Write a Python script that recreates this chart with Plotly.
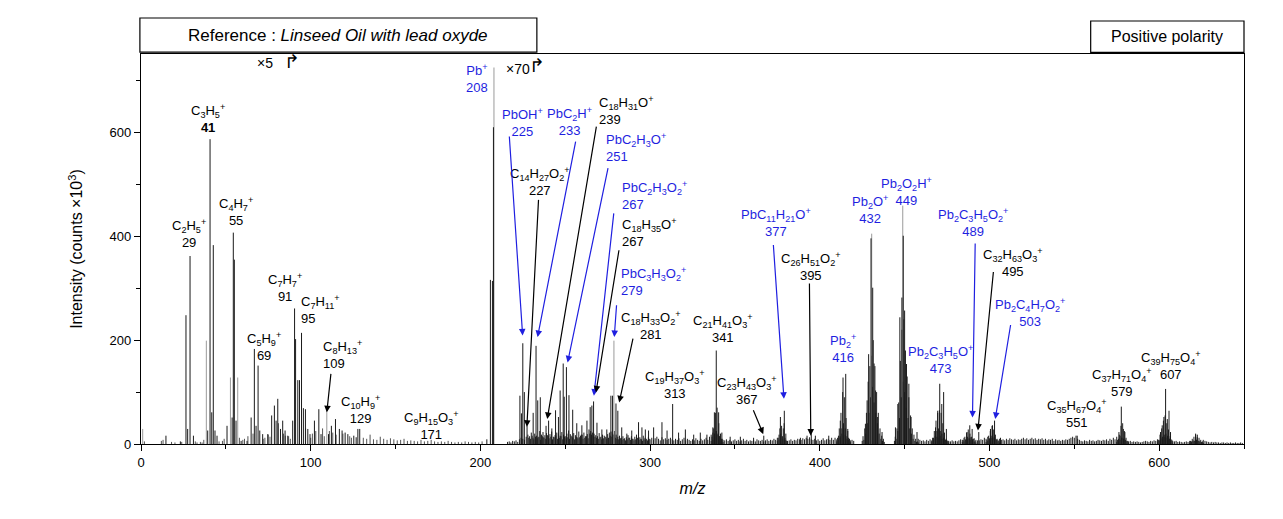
import plotly.graph_objects as go

# ---------------- data ----------------
# main peaks (dark)
peak_mz = [14.7, 23.2, 26.5, 27.5, 28.9, 30.9, 39.3, 40.7, 41.7, 42.6, 43.6, 44.8, 50.7, 53.7, 54.4, 55.0,
           56.0, 59, 62.5, 64.9, 66.8, 67.8, 69.0, 70, 71.7, 74.7, 77, 78.6, 79.6, 80.6, 82.2, 83.5, 84.9,
           86.5, 89.4, 90.5, 91.1, 92.4, 93.4, 94.6, 95.7, 96.9, 98.3, 99.6, 102.2, 104.8, 106.1, 110.5,
           112.2, 114.6, 116.9, 118.5, 120.3, 121.9, 125.4, 126.8, 127.8, 128.9,
           203.8, 205.9, 207.1, 207.7, 223.3, 224.2, 225.0, 225.9, 227.5, 231.1, 232.8, 233.8, 235.3,
           236.9, 238.7, 240.2, 242.1, 244.3, 246, 247, 248.8, 249.4, 250.7, 252.2, 254.4, 256.8, 259.8,
           262.8, 264.7, 265.7, 266.7, 268.7, 271.6, 274.5, 276.9, 277.9, 279.9, 281.0, 283.3, 286.3,
           289.2, 293.2, 295.2, 297.2, 299.1, 302.1, 307, 310, 313.3, 316.8, 320.8, 325.7, 329.6, 333.5,
           337.0, 337.9, 339.0, 340.4, 342.3, 347.2, 353.2, 361, 367, 376.8, 379.1, 388.6, 392.5, 395,
           397.4, 405.3, 412.1, 413.7, 415.3, 416.5, 426.9, 427.9, 428.8, 430.2, 431.2, 432.0, 432.9,
           434.1, 436.7, 444.6, 446.0, 447.2, 448.4, 449.2, 450.0, 451.1, 452.5, 453.8, 457.3, 468.2,
           469.5, 470.7, 471.9, 473.0, 474.6, 486.8, 488.4, 489.8, 493.7, 500.6, 501.8, 503.0, 506.5,
           551.7, 576.3, 577.7, 578.9, 579.8, 600.8, 601.8, 602.8, 603.8, 604.8, 605.8, 606.7, 621.5, 622.4]
peak_int = [16, 5, 248, 29, 362, 16, 26, 587, 61, 383, 26, 16, 35, 51, 407, 355,
            45, 6, 6, 51, 183, 35, 151, 26, 19, 19, 55, 74, 45, 87, 29, 45, 26,
            16, 45, 261, 202, 123, 123, 214, 69, 67, 29, 19, 45, 67, 19, 19,
            35, 48, 29, 26, 22, 19, 16, 13, 29, 29,
            9, 316, 314, 610, 93, 59, 194, 100, 36, 60, 189, 84, 90,
            23, 35, 45, 30, 65, 52, 103, 155, 91, 148, 94, 66, 40, 36,
            45, 71, 74, 82, 41, 28, 28, 93, 93, 78, 64, 32, 20,
            26, 42, 32, 28, 26, 32, 42, 26, 77, 22, 28, 18, 22, 18,
            32, 61, 180, 61, 22, 14, 14, 12, 16, 52, 64, 12, 16, 19,
            16, 16, 45, 128, 135, 29, 39, 84, 173, 396, 301, 155, 103,
            52, 23, 32, 77, 244, 282, 401, 257, 154, 116, 52, 23, 32,
            64, 116, 77, 100, 29, 23, 36, 29, 23, 29, 36, 45, 12,
            16, 23, 72, 29, 23, 23, 36, 52, 106, 48, 64, 23, 20, 13]

# light grey peaks
light_mz = [1.0, 38.5, 52.7, 57.0, 109.5, 208.0, 278.7, 430.6, 448.9]
light_int = [29, 199, 128, 128, 64, 725, 199, 405, 459]

# low-mass background peaks
low_mz = [2, 12, 13, 18, 20, 24, 32, 33, 35, 36, 37, 46, 48, 49, 58, 60, 61, 63, 66, 72, 73, 75, 76,
          81, 84, 85, 87, 88, 97, 100, 101, 103, 107, 108, 111, 113, 115, 119, 123, 124,
          131, 133, 135, 137, 139, 141, 143, 145, 147, 149, 151, 153, 155, 157, 159, 161, 163, 165,
          167, 169, 171, 173, 175, 177, 179, 181, 183, 185, 187, 189, 191, 193, 195, 197, 199, 201]
low_int = [5, 6, 8, 4, 3, 4, 5, 3, 4, 3, 8, 5, 6, 10, 12, 8, 10, 15, 20, 10, 12, 18, 14,
           40, 20, 16, 15, 10, 30, 12, 20, 25, 30, 15, 25, 22, 18, 20, 15, 12,
           12, 10, 18, 9, 8, 14, 10, 8, 11, 9, 7, 8, 10, 6, 7, 6, 5, 8,
           5, 6, 8, 5, 4, 5, 4, 6, 4, 3, 4, 3, 5, 4, 3, 4, 3, 5]

# background "grass" from m/z 216 to 420 (one value per unit mass)
grass_a_start = 216
grass_a_int = [4, 5, 3, 6, 5, 7, 4, 9, 12, 10, 8, 14,
               18, 15, 22, 12, 20, 16, 14, 25, 18, 13, 17, 21,
               15, 19, 24, 14, 17, 22, 20, 16, 23, 18, 15, 20,
               26, 19, 14, 21, 17, 13, 24, 16, 18, 22, 15, 19,
               28, 25, 22, 20, 17, 15, 21, 14, 18, 16, 13, 19,
               22, 24, 20, 25, 18, 14, 16, 12, 15, 11, 13, 17,
               12, 15, 10, 14, 18, 11, 13, 9, 16, 12, 10, 14,
               9, 12, 8, 11, 14, 10, 7, 13, 9, 11, 8, 10,
               12, 9, 7, 10, 8, 11, 6, 9, 12, 7, 10, 8,
               6, 9, 7, 11, 8, 6, 10, 7, 9, 12, 8, 14,
               18, 22, 20, 25, 18, 15, 10, 8, 7, 9, 6, 8,
               5, 7, 9, 6, 8, 5, 7, 10, 6, 8, 5, 7,
               6, 8, 5, 9, 7, 6, 8, 5, 7, 9, 6, 8,
               7, 10, 8, 12, 18, 20, 15, 9, 8, 6, 7, 9,
               6, 8, 7, 10, 9, 8, 11, 9, 12, 10, 13, 9,
               8, 10, 7, 9, 6, 8, 11, 7, 9, 10, 8, 12,
               8, 12, 9, 16, 12, 20, 14, 18, 10, 12, 7, 8, 6]
# half-mass grass from m/z 228.5 to 299.5
grass_b_start = 228.5
grass_b_int = [12, 10, 16, 9, 14, 11, 13, 8, 15, 12, 10, 17,
               11, 14, 9, 13, 16, 10, 12, 15, 9, 14, 11, 13,
               10, 16, 12, 9, 14, 11, 13, 18, 10, 12, 15, 11,
               20, 18, 16, 14, 12, 10, 13, 9, 11, 14, 10, 12,
               16, 14, 18, 12, 10, 9, 11, 8, 10, 7, 9, 12,
               8, 10, 7, 9, 12, 8, 10, 6, 9, 8, 7, 10]
# high-mass grass from m/z 458 to 649
grass_c_start = 458
grass_c_int = [10, 8, 6, 7, 5, 8, 6, 9, 7, 12, 9, 14,
               12, 16, 10, 12, 8, 7, 6, 5, 7, 5, 6, 5,
               7, 9, 8, 12, 9, 14, 10, 13, 9, 11, 8, 7,
               7, 9, 8, 12, 10, 14, 11, 16, 12, 13, 9, 8,
               10, 8, 9, 7, 10, 8, 11, 9, 8, 10, 7, 9,
               8, 10, 12, 9, 11, 8, 10, 12, 9, 11, 8, 10,
               9, 11, 8, 10, 7, 9, 8, 10, 6, 9, 7, 8,
               6, 8, 7, 9, 8, 10, 12, 14, 12, 16, 10, 8,
               6, 5, 7, 6, 5, 8, 6, 7, 5, 6, 8, 7,
               6, 8, 7, 9, 6, 10, 8, 12, 9, 14, 10, 16,
               12, 10, 8, 6, 5, 6, 4, 5, 4, 5, 4, 3,
               4, 5, 6, 5, 4, 6, 5, 7, 6, 9, 8, 12,
               10, 14, 12, 16, 10, 9, 6, 5, 6, 4, 5, 4,
               3, 4, 5, 4, 6, 5, 7, 6, 8, 6, 5, 4,
               8, 6, 5, 4, 3, 4, 3, 4, 3, 3, 2, 3,
               3, 2, 3, 2, 3, 2, 2, 3, 2, 2, 3, 2]
# dense isotope clusters (start m/z, values every 0.5 m/z)
clusters = {
    336.0: [6, 14, 8, 30, 12, 60, 25, 70, 20, 40, 15, 20, 8, 10, 4],
    375.0: [6, 12, 8, 30, 15, 35, 10, 30, 40, 12, 20, 6, 5],
    410.0: [5, 12, 8, 30, 15, 60, 30, 100, 40, 90, 30, 50, 15, 25, 8, 10, 4],
    425.0: [6, 15, 8, 30, 20, 60, 40, 120, 60, 150, 90, 170, 110, 200, 80, 150, 60, 100, 40, 60,
            20, 30, 10, 16, 6, 10, 4],
    444.0: [6, 14, 10, 30, 25, 80, 50, 160, 90, 220, 120, 240, 100, 180, 70, 130, 50, 90, 30, 55,
            20, 30, 10, 18, 6, 10, 4, 5, 3],
    466.0: [5, 12, 8, 25, 15, 45, 25, 60, 30, 65, 25, 60, 20, 40, 12, 22, 8, 10, 5, 6, 3],
    484.0: [4, 8, 5, 14, 8, 22, 10, 28, 12, 20, 8, 14, 6, 10, 4, 6, 3],
    498.0: [4, 8, 6, 16, 8, 25, 12, 35, 14, 28, 10, 18, 8, 10, 5, 6, 3],
    575.0: [4, 8, 5, 18, 8, 35, 12, 40, 10, 25, 8, 12, 5, 6, 3],
    599.0: [4, 8, 6, 18, 10, 30, 14, 45, 18, 55, 20, 40, 15, 28, 10, 15, 6, 8, 3],
    618.0: [3, 6, 4, 10, 5, 14, 6, 18, 8, 18, 6, 12, 5, 8, 3, 5, 2],
}

# labels: (text, m/z, intensity, color, xanchor)
BLUE = "#1f1fe0"
labels = [
    ("C<sub>3</sub>H<sub>5</sub><sup>+</sup><br><b>41</b>", 39.3, 627, "black", "center"),
    ("C<sub>2</sub>H<sub>5</sub><sup>+</sup><br>29", 28.1, 405, "black", "center"),
    ("C<sub>4</sub>H<sub>7</sub><sup>+</sup><br>55", 56.1, 448, "black", "center"),
    ("C<sub>5</sub>H<sub>9</sub><sup>+</sup><br>69", 72.3, 188, "black", "center"),
    ("C<sub>7</sub>H<sub>7</sub><sup>+</sup><br>91", 85.0, 302, "black", "center"),
    ("C<sub>7</sub>H<sub>11</sub><sup>+</sup><br>95", 93.2, 259, "black", "left"),
    ("C<sub>8</sub>H<sub>13</sub><sup>+</sup><br>109", 106.0, 172, "black", "left"),
    ("C<sub>10</sub>H<sub>9</sub><sup>+</sup><br>129", 129.5, 67, "black", "center"),
    ("C<sub>9</sub>H<sub>15</sub>O<sub>3</sub><sup>+</sup><br>171", 170.8, 35, "black", "center"),
    ("Pb<sup>+</sup><br>208", 197.9, 704, BLUE, "center"),
    ("PbOH<sup>+</sup><br>225", 224.8, 620, BLUE, "center"),
    ("PbC<sub>2</sub>H<sup>+</sup><br>233", 252.8, 621, BLUE, "center"),
    ("C<sub>18</sub>H<sub>31</sub>O<sup>+</sup><br>239", 268.5, 643, "black", "left"),
    ("PbC<sub>2</sub>H<sub>3</sub>O<sup>+</sup><br>251", 272.8, 571, BLUE, "left"),
    ("C<sub>14</sub>H<sub>27</sub>O<sub>2</sub><sup>+</sup><br>227", 235.1, 505, "black", "center"),
    ("PbC<sub>2</sub>H<sub>3</sub>O<sub>2</sub><sup>+</sup><br>267", 282.4, 479, BLUE, "left"),
    ("C<sub>18</sub>H<sub>35</sub>O<sup>+</sup><br>267", 282.4, 407, "black", "left"),
    ("PbC<sub>3</sub>H<sub>3</sub>O<sub>2</sub><sup>+</sup><br>279", 281.8, 313, BLUE, "left"),
    ("C<sub>18</sub>H<sub>33</sub>O<sub>2</sub><sup>+</sup><br>281", 300.4, 228, "black", "center"),
    ("C<sub>21</sub>H<sub>41</sub>O<sub>3</sub><sup>+</sup><br>341", 343.0, 222, "black", "center"),
    ("C<sub>19</sub>H<sub>37</sub>O<sub>3</sub><sup>+</sup><br>313", 314.4, 115, "black", "center"),
    ("C<sub>23</sub>H<sub>43</sub>O<sub>3</sub><sup>+</sup><br>367", 357.4, 103, "black", "center"),
    ("PbC<sub>11</sub>H<sub>21</sub>O<sup>+</sup><br>377", 374.2, 426, BLUE, "center"),
    ("C<sub>26</sub>H<sub>51</sub>O<sub>2</sub><sup>+</sup><br>395", 394.6, 342, "black", "center"),
    ("Pb<sub>2</sub><sup>+</sup><br>416", 413.7, 183, BLUE, "center"),
    ("Pb<sub>2</sub>O<sup>+</sup><br>432", 429.4, 452, BLUE, "center"),
    ("Pb<sub>2</sub>O<sub>2</sub>H<sup>+</sup><br>449", 451.3, 487, BLUE, "center"),
    ("Pb<sub>2</sub>C<sub>3</sub>H<sub>5</sub>O<sup>+</sup><br>473", 471.1, 163, BLUE, "center"),
    ("Pb<sub>2</sub>C<sub>3</sub>H<sub>5</sub>O<sub>2</sub><sup>+</sup><br>489", 490.4, 426, BLUE, "center"),
    ("C<sub>32</sub>H<sub>63</sub>O<sub>3</sub><sup>+</sup><br>495", 513.7, 350, "black", "center"),
    ("Pb<sub>2</sub>C<sub>4</sub>H<sub>7</sub>O<sub>2</sub><sup>+</sup><br>503", 524.0, 253, BLUE, "center"),
    ("C<sub>35</sub>H<sub>67</sub>O<sub>4</sub><sup>+</sup><br>551", 551.5, 58, "black", "center"),
    ("C<sub>37</sub>H<sub>71</sub>O<sub>4</sub><sup>+</sup><br>579", 578.1, 118, "black", "center"),
    ("C<sub>39</sub>H<sub>75</sub>O<sub>4</sub><sup>+</sup><br>607", 606.8, 151, "black", "center"),
]

# arrows: (tail m/z, tail int, tip m/z, tip int, color)
arrows = [
    (217.0, 595, 224.9, 209, BLUE),
    (234.3, 473, 227.4, 33, "black"),
    (256.3, 585, 233.7, 206, BLUE),
    (268.5, 614, 239.4, 48, "black"),
    (275.4, 534, 251.4, 157, BLUE),
    (278.7, 447, 266.9, 93, BLUE),
    (281.8, 376, 268.1, 99, "black"),
    (280.3, 270, 278.9, 206, BLUE),
    (290.1, 206, 281.8, 80, "black"),
    (360.5, 68, 366.7, 19, "black"),
    (372.6, 386, 378.9, 87, BLUE),
    (393.9, 312, 394.7, 16, "black"),
    (491.6, 389, 490.0, 51, BLUE),
    (502.4, 334, 493.2, 26, "black"),
    (512.6, 232, 503.4, 48, BLUE),
    (112.0, 138, 109.5, 61, "black"),
]

# scale-factor markers: (text, m/z, intensity, size)
scale_marks = [("×5", 72.9, 733, 14), ("↱", 89.2, 737, 19), ("×70", 222.1, 723, 14), ("↱", 233.3, 729, 19)]

x_ticks = [0, 100, 200, 300, 400, 500, 600]
y_ticks = [0, 200, 400, 600]


# ---------------- figure ----------------
def sticks(mz, inten):
    xs, ys = [], []
    for m, h in zip(mz, inten):
        xs += [m, m, None]
        ys += [0, h, None]
    return xs, ys


fig = go.Figure()

grass_mz, grass_int = [], []
for i, v in enumerate(grass_a_int):
    grass_mz.append(grass_a_start + i); grass_int.append(v)
for i, v in enumerate(grass_b_int):
    grass_mz.append(grass_b_start + i); grass_int.append(v)
for i, v in enumerate(grass_c_int):
    grass_mz.append(grass_c_start + i); grass_int.append(v)
for start, vals in clusters.items():
    for i, v in enumerate(vals):
        grass_mz.append(start + 0.5 * i); grass_int.append(v)

for mz, it, col in [(low_mz, low_int, "#555555"), (grass_mz, grass_int, "#222222"),
                    (light_mz, light_int, "#9a9a9a"), (peak_mz, peak_int, "#1a1a1a")]:
    xs, ys = sticks(mz, it)
    fig.add_trace(go.Scatter(x=xs, y=ys, mode="lines", line=dict(color=col, width=1),
                             hoverinfo="skip", showlegend=False))

FONT = "Arial, Liberation Sans, sans-serif"
ann = []
for t, x, y, c, xa in labels:
    ann.append(dict(text=t, x=x, y=y, xref="x", yref="y", showarrow=False, xanchor=xa,
                    yanchor="middle", align=xa if xa != "center" else "center",
                    font=dict(family=FONT, size=13, color=c)))
for tx, ty, hx, hy, c in arrows:
    ann.append(dict(text="", x=hx, y=hy, ax=tx, ay=ty, xref="x", yref="y", axref="x", ayref="y",
                    showarrow=True, arrowhead=2, arrowsize=1.1, arrowwidth=1.2, arrowcolor=c,
                    standoff=0, startstandoff=0))
for t, x, y, s in scale_marks:
    ann.append(dict(text=t, x=x, y=y, xref="x", yref="y", showarrow=False,
                    font=dict(family=FONT, size=s, color="black")))

ann.append(dict(text="Reference : <i>Linseed Oil with lead oxyde</i>", x=0.1784, y=1.0487,
                xref="paper", yref="paper", showarrow=False, xanchor="center", yanchor="middle",
                font=dict(family=FONT, size=17, color="black")))
ann.append(dict(text="Positive polarity", x=0.9305, y=1.0445, xref="paper", yref="paper",
                showarrow=False, xanchor="center", yanchor="middle",
                font=dict(family=FONT, size=16, color="black")))

shapes = [
    dict(type="rect", xref="paper", yref="paper", x0=-0.001, x1=0.3589, y0=1.005, y1=1.0923,
         line=dict(color="black", width=1.2)),
    dict(type="rect", xref="paper", yref="paper", x0=0.861, x1=1.0, y0=1.0044, y1=1.0846,
         line=dict(color="black", width=1.2)),
]

fig.update_layout(
    width=1283, height=519,
    margin=dict(l=133, r=47, t=46, b=83),
    paper_bgcolor="white", plot_bgcolor="white",
    annotations=ann, shapes=shapes, showlegend=False,
    font=dict(family=FONT, color="black"),
)
fig.update_xaxes(
    range=[0, 650], tickvals=x_ticks, ticks="outside", ticklen=6, tickwidth=1, tickcolor="black",
    minor=dict(dtick=50, ticks="outside", ticklen=4, tickcolor="black"),
    showline=True, linecolor="black", linewidth=1.2, mirror=True, showgrid=False, zeroline=False,
    tickfont=dict(family=FONT, size=13, color="black"),
    title=dict(text="<i>m/z</i>", font=dict(family=FONT, size=16, color="black"), standoff=14),
)
fig.update_yaxes(
    range=[0, 751], tickvals=y_ticks, ticks="outside", ticklen=6, tickwidth=1, tickcolor="black",
    minor=dict(dtick=100, ticks="outside", ticklen=4, tickcolor="black"),
    showline=True, linecolor="black", linewidth=1.2, mirror=True, showgrid=False, zeroline=False,
    tickfont=dict(family=FONT, size=13, color="black"),
    title=dict(text="Intensity (counts ×10<sup>3</sup>)", font=dict(family=FONT, size=16, color="black"),
               standoff=22),
)

fig.write_html("out.html")
